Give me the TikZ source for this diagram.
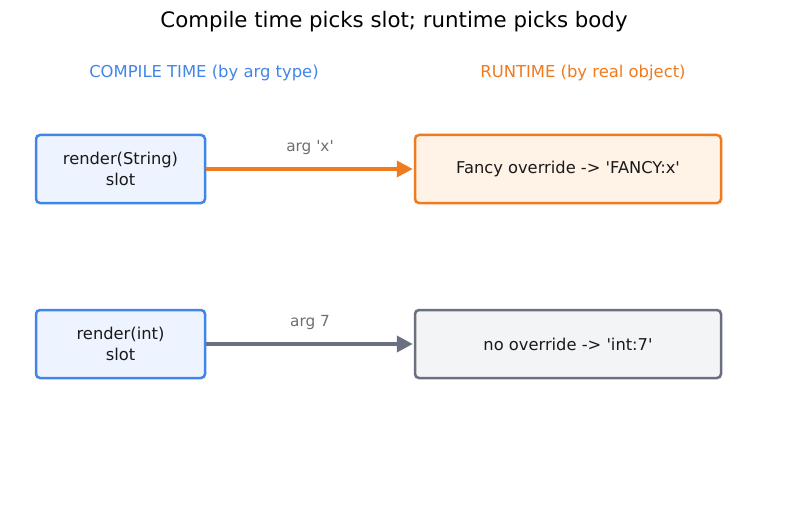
\documentclass[tikz,border=0pt]{standalone}
\usepackage{fontspec}
\setmainfont{DejaVu Sans}
\usetikzlibrary{arrows.meta}
\definecolor{cblue}{HTML}{4285E8}
\definecolor{cbluefill}{HTML}{EEF4FF}
\definecolor{corange}{HTML}{F07A1E}
\definecolor{corangefill}{HTML}{FFF3E8}
\definecolor{cgray}{HTML}{6B7080}
\definecolor{cgrayfill}{HTML}{F3F4F6}
\definecolor{clabel}{HTML}{6E6E6E}
\newcommand{\sq}{\textquotesingle}
\tikzset{
  box/.style={draw, line width=2.5pt, rounded corners=4pt, align=center, inner sep=0pt, font=\fontsize{16.3}{20.5}\selectfont, text=black!90},
  slotbox/.style={box, draw=cblue, fill=cbluefill, minimum width=169pt, minimum height=68pt},
  runbox/.style={box, minimum width=306pt, minimum height=68pt},
  conn/.style={line width=3.8pt, -{Triangle[length=16pt,width=16pt]}, shorten >=1pt},
  lbl/.style={text=clabel, font=\fontsize{15.3}{18}\selectfont},
}
\begin{document}
\begin{tikzpicture}[x=1pt,y=-1pt]
\useasboundingbox (0,0) rectangle (787,508);
\node (title) at (394,22) {\fontsize{21.3}{25}\selectfont Compile time picks slot; runtime picks body};
\node[text=cblue, font=\fontsize{16.4}{19}\selectfont] (hct) at (204,73) {COMPILE TIME (by arg type)};
\node[text=corange, font=\fontsize{16.4}{19}\selectfont] (hrt) at (583,73) {RUNTIME (by real object)};
\node[slotbox] (s1) at (120.5,169) {render(String)\\slot};
\node[slotbox] (s2) at (120.5,344) {render(int)\\slot};
\node[runbox, draw=corange, fill=corangefill] (r1) at (568,169) {Fancy override -> \sq FANCY:x\sq};
\node[runbox, draw=cgray, fill=cgrayfill] (r2) at (568,344) {no override -> \sq int:7\sq};
\draw[conn, draw=corange, fill=corange] (s1.east) -- (r1.west);
\draw[conn, draw=cgray, fill=cgray] (s2.east) -- (r2.west);
\node[lbl] (l1) at (310,147.5) {arg \sq x\sq};
\node[lbl] (l2) at (310,322.5) {arg 7};
\end{tikzpicture}
\end{document}
